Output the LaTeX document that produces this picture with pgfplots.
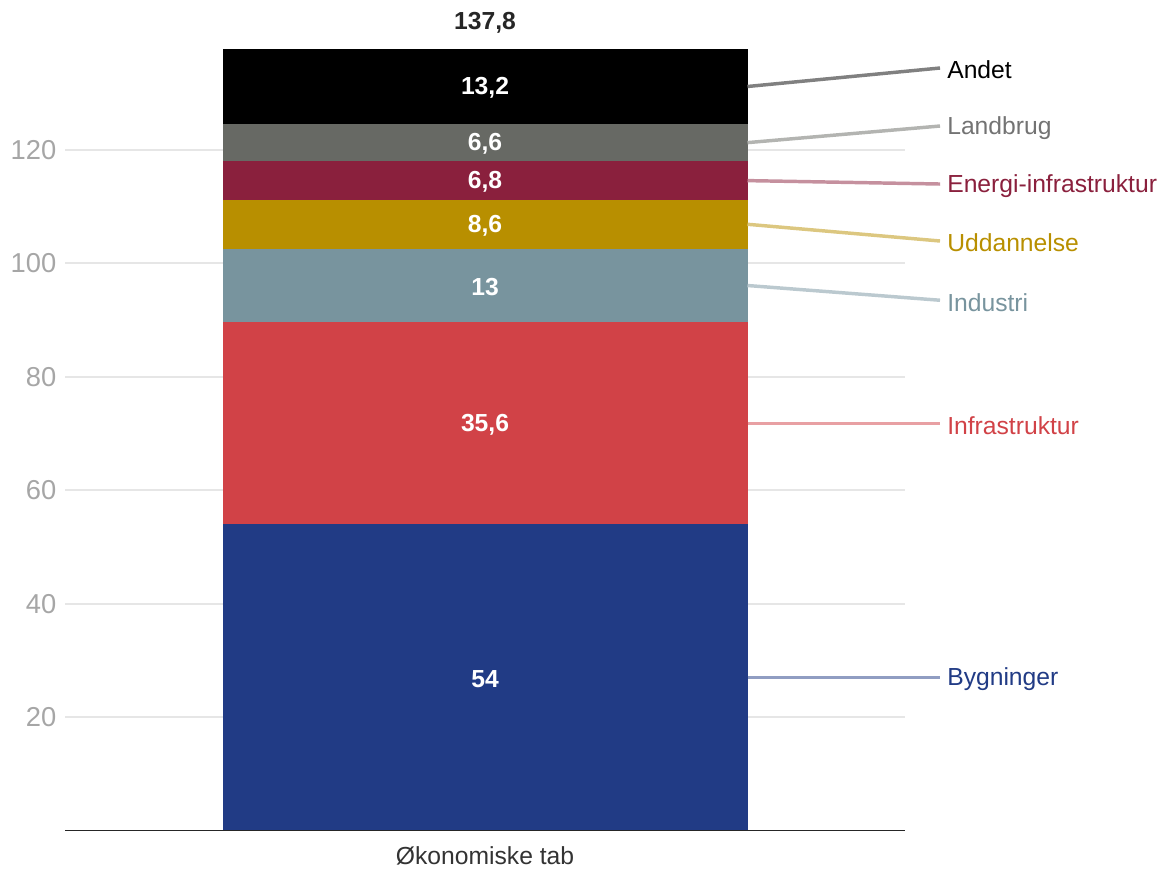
\documentclass[border=0pt]{standalone}
\usepackage{pgfplots}
\pgfplotsset{compat=1.18}
\usepackage{fontspec}
\setmainfont{Liberation Sans}
\definecolor{cByg}{HTML}{213B85}
\definecolor{cInf}{HTML}{D14247}
\definecolor{cInd}{HTML}{78949E}
\definecolor{cUdd}{HTML}{B88F00}
\definecolor{cEne}{HTML}{8A203D}
\definecolor{cLan}{HTML}{676964}
\definecolor{cAnd}{HTML}{000000}
\definecolor{tickgray}{HTML}{A6A6A6}
\definecolor{gridgray}{HTML}{E6E6E6}
\tikzset{
  vlab/.style={font=\bfseries\fontsize{18.5}{22}\selectfont, text=white, yshift=-1pt},
  clab/.style={anchor=west, font=\fontsize{18.5}{22}\selectfont, inner sep=0pt, yshift=-1.5pt},
  conn/.style={line width=2.6pt},
}
\begin{document}
\begin{tikzpicture}
\begin{axis}[
  scale only axis,
  width=630pt, height=595.35pt,
  xmin=-0.8, xmax=0.8,
  ymin=0, ymax=140,
  ybar stacked,
  bar width=1,
  clip=false,
  axis x line*=bottom,
  axis y line*=left,
  y axis line style={draw=none},
  x axis line style={draw=black!85, line width=1.2pt},
  xtick={0},
  xticklabels={Økonomiske tab},
  ytick={20,40,60,80,100,120},
  ymajorgrids,
  grid style={draw=gridgray, line width=1.5pt},
  major tick length=0pt,
  yticklabel style={text=tickgray, font=\fontsize{20.5}{24}\selectfont, xshift=-3pt},
  xticklabel style={text=black!80, font=\fontsize{18.5}{22}\selectfont, yshift=-9pt},
  /pgf/number format/assume math mode=true,
]
\addplot[fill=cByg, draw=none] coordinates {(0,54)};
\addplot[fill=cInf, draw=none] coordinates {(0,35.6)};
\addplot[fill=cInd, draw=none] coordinates {(0,13)};
\addplot[fill=cUdd, draw=none] coordinates {(0,8.6)};
\addplot[fill=cEne, draw=none] coordinates {(0,6.8)};
\addplot[fill=cLan, draw=none] coordinates {(0,6.6)};
\addplot[fill=cAnd, draw=none] coordinates {(0,13.2)};

\coordinate (v1) at (axis cs:0,27);
\coordinate (v2) at (axis cs:0,71.8);
\coordinate (v3) at (axis cs:0,96.1);
\coordinate (v4) at (axis cs:0,106.9);
\coordinate (v5) at (axis cs:0,114.6);
\coordinate (v6) at (axis cs:0,121.3);
\coordinate (v7) at (axis cs:0,131.2);
\coordinate (vt) at (axis cs:0,142.6);

\coordinate (s1) at (axis cs:0.5,27);
\coordinate (s2) at (axis cs:0.5,71.8);
\coordinate (s3) at (axis cs:0.5,96.1);
\coordinate (s4) at (axis cs:0.5,106.9);
\coordinate (s5) at (axis cs:0.5,114.6);
\coordinate (s6) at (axis cs:0.5,121.3);
\coordinate (s7) at (axis cs:0.5,131.2);

\coordinate (e1) at (axis cs:0.8667,27);
\coordinate (e2) at (axis cs:0.8667,71.8);
\coordinate (e3) at (axis cs:0.8667,93.5);
\coordinate (e4) at (axis cs:0.8667,103.95);
\coordinate (e5) at (axis cs:0.8667,114.0);
\coordinate (e6) at (axis cs:0.8667,124.23);
\coordinate (e7) at (axis cs:0.8667,134.46);
\end{axis}

\node[vlab] at (v1) {54};
\node[vlab] at (v2) {35,6};
\node[vlab] at (v3) {13};
\node[vlab] at (v4) {8,6};
\node[vlab] at (v5) {6,8};
\node[vlab] at (v6) {6,6};
\node[vlab] at (v7) {13,2};
\node[vlab, text=black!85] at (vt) {137,8};

\draw[conn, cByg!50!white] (s1) -- (e1);
\draw[conn, cInf!50!white] (s2) -- (e2);
\draw[conn, cInd!50!white] (s3) -- (e3);
\draw[conn, cUdd!50!white] (s4) -- (e4);
\draw[conn, cEne!50!white] (s5) -- (e5);
\draw[conn, cLan!50!white] (s6) -- (e6);
\draw[conn, black!50] (s7) -- (e7);

\node[clab, text=cByg] at ([xshift=5.25pt]e1) {Bygninger};
\node[clab, text=cInf] at ([xshift=5.25pt]e2) {Infrastruktur};
\node[clab, text=cInd] at ([xshift=5.25pt]e3) {Industri};
\node[clab, text=cUdd] at ([xshift=5.25pt]e4) {Uddannelse};
\node[clab, text=cEne] at ([xshift=5.25pt]e5) {Energi-infrastruktur};
\node[clab, text=black!55] at ([xshift=5.25pt]e6) {Landbrug};
\node[clab, text=black] at ([xshift=5.25pt]e7) {Andet};

\pgfresetboundingbox
\path[use as bounding box] (-48.75pt,-28.95pt) rectangle (826.5pt,622.8pt);
\end{tikzpicture}
\end{document}
